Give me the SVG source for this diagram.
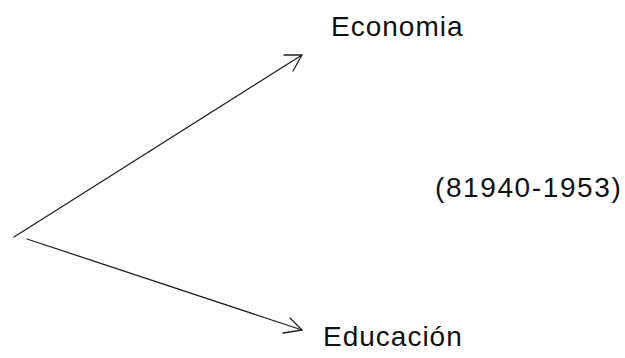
<svg xmlns="http://www.w3.org/2000/svg" width="625" height="358" viewBox="0 0 625 358">
<style>
.t{font-family:"Liberation Sans",Arial,sans-serif;font-size:28px;fill:#111;letter-spacing:1px}
.d{letter-spacing:1.6px}
.ln{stroke:#222;stroke-width:1.3;fill:none;stroke-linecap:round;stroke-linejoin:round}
</style>
<rect width="625" height="358" fill="#fff"/>
<g id="connectors">
<path class="ln" d="M14,237 L302,55"/>
<path class="ln" d="M284,55 L302,55 L293,71"/>
<path class="ln" d="M27,239 L302,330"/>
<path class="ln" d="M290,318 L302,330 L283,333"/>
</g>
<g id="economia"><text class="t" x="331" y="36">Economia</text></g>
<g id="fecha"><text class="t d" x="435" y="197">(81940-1953)</text></g>
<g id="educacion"><text class="t" x="323" y="346">Educación</text></g>
</svg>
